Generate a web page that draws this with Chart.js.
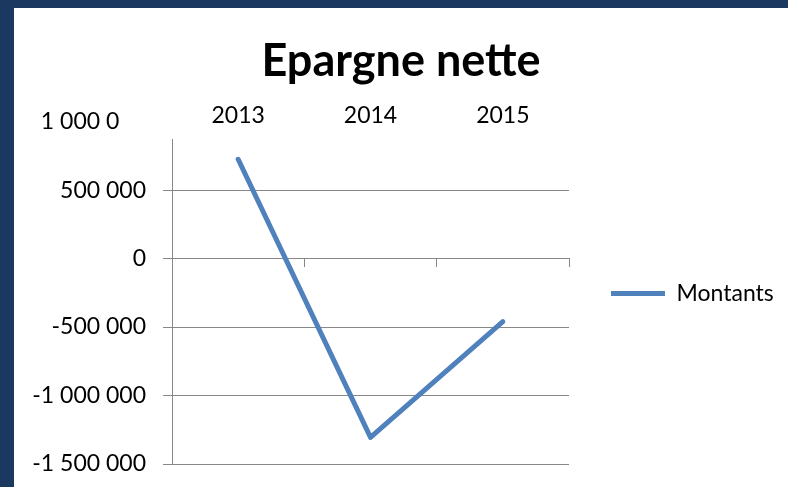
<!DOCTYPE html>
<html>
<head>
<meta charset="utf-8">
<script src="https://cdn.jsdelivr.net/npm/chart.js@4"></script>
<style>
  html, body { margin: 0; padding: 0; background: #1b3960; }
  body { width: 788px; height: 487px; overflow: hidden; position: relative; }
  #wrap { position: absolute; left: 14px; top: 8px; width: 774px; height: 479px; background: #fff; }
</style>
</head>
<body>
<div id="wrap"><canvas id="chart"></canvas></div>
<script>
const years = ['2013', '2014', '2015'];
const montants = [725000, -1306000, -460000];
const yTickValues = [-1500000, -1000000, -500000, 0, 500000, 1000000];
// the top label is cut off in the original, two figure spaces keep it in place
const yTickLabels = ['-1 500 000', '-1 000 000', '-500 000', '0', '500 000', '1 000 0\u2007\u2007'];
const yMin = -1500000;
const yMax = 873000;

const blue = '#4f81bd';
const grid = '#878787';
const font = 'Lato, "Open Sans", sans-serif';

// Excel gives the legend more room than Chart.js allows a side box,
// and sits it a bit above the middle of the plot
const legendTweak = {
  id: 'legendTweak',
  afterInit(chart) {
    const lg = chart.legend;
    const fit = lg.fit.bind(lg);
    lg.fit = () => { fit(); lg.width = 219; };
  },
  afterLayout(chart) { chart.legend.bottom -= 16; },
};

new Chart(document.getElementById('chart'), {
  type: 'line',
  data: {
    labels: years,
    datasets: [{
      label: 'Montants',
      data: montants,
      borderColor: blue,
      backgroundColor: blue,
      borderWidth: 5,
      borderCapStyle: 'round',
      borderJoinStyle: 'round',
      pointRadius: 0,
      tension: 0,
    }],
  },
  options: {
    responsive: true,
    maintainAspectRatio: false,
    animation: false,
    layout: { autoPadding: false, padding: { left: 0, right: 0, top: 0, bottom: 23 } },
    scales: {
      x: {
        position: 'top',
        offset: true,
        grid: { display: false, drawTicks: false },
        border: { display: false },
        ticks: { color: '#000', font: { family: font, size: 23 }, padding: 10 },
        afterFit: s => { s.height = 51; },
      },
      x2: {
        type: 'category',
        labels: years,
        position: { y: 0 },
        offset: true,
        grid: { offset: true, drawOnChartArea: false, color: grid, tickLength: 8 },
        border: { display: true, color: grid },
        ticks: { display: false },
        afterFit: s => { s.height = 0; },
      },
      y: {
        min: yMin,
        max: yMax,
        afterBuildTicks: s => { s.ticks = yTickValues.map(v => ({ value: v })); },
        grid: {
          color: c => (c.tick && c.tick.value > yMax) ? 'rgba(0,0,0,0)' : grid,
          tickLength: 9,
        },
        border: { display: true, color: grid },
        ticks: {
          autoSkip: false,
          color: '#000',
          padding: 17,
          font: { family: font, size: 23 },
          callback: (v, i) => yTickLabels[i],
        },
        afterFit: s => { s.width = 158; s.paddingTop = 0; s.paddingBottom = 0; },
      },
    },
    plugins: {
      title: {
        display: true,
        text: 'Epargne nette',
        color: '#000',
        font: { family: font, size: 45, weight: 'bold' },
        padding: { top: 26, bottom: 0 },
      },
      legend: {
        position: 'right',
        fullSize: false,
        labels: {
          color: '#000',
          font: { family: font, size: 23 },
          usePointStyle: true,
          pointStyle: 'line',
          pointStyleWidth: 54,
          padding: 42,
        },
      },
      tooltip: { enabled: false },
    },
  },
  plugins: [legendTweak],
});
</script>
</body>
</html>
